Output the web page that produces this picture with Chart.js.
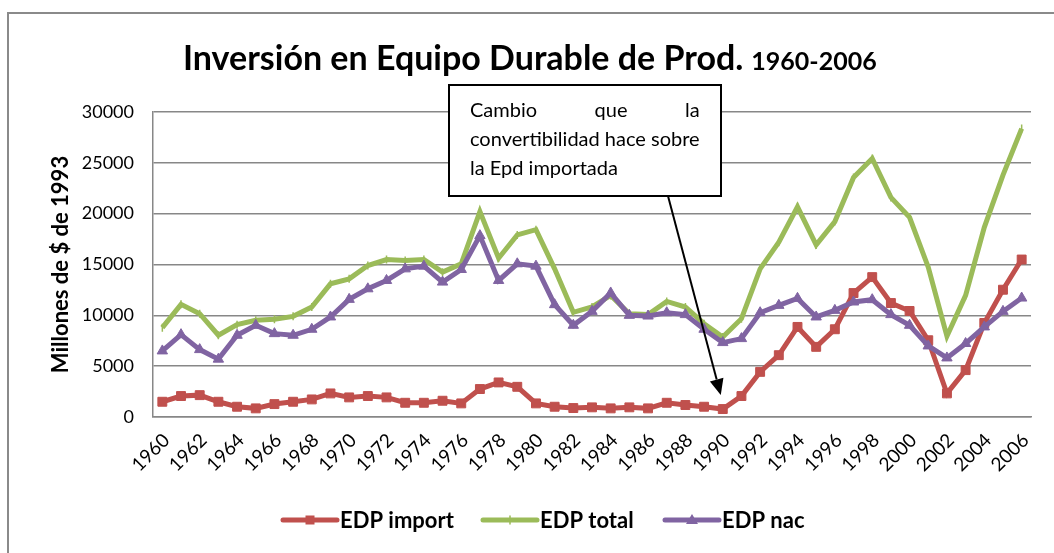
<!DOCTYPE html>
<html>
<head>
<meta charset="utf-8">
<script src="https://cdn.jsdelivr.net/npm/chart.js@4.4.1/dist/chart.umd.min.js"></script>
<style>
  html, body { margin: 0; padding: 0; background: #fff; overflow: hidden; }
  #frame { position: absolute; left: 7px; top: 12px; width: 1100px; height: 600px; border: 2px solid #8a8a8a; }
  #wrap { position: absolute; left: 0; top: 0; width: 1054px; height: 553px; }
</style>
</head>
<body>
<div id="frame"></div>
<div id="wrap"><canvas id="chart" width="1054" height="553"></canvas></div>
<script>
// ── Series (millones de $ de 1993) ──
const years = [
  '1960', '1961', '1962', '1963', '1964', '1965', '1966', '1967', '1968', '1969',
  '1970', '1971', '1972', '1973', '1974', '1975', '1976', '1977', '1978', '1979',
  '1980', '1981', '1982', '1983', '1984', '1985', '1986', '1987', '1988', '1989',
  '1990', '1991', '1992', '1993', '1994', '1995', '1996', '1997', '1998', '1999',
  '2000', '2001', '2002', '2003', '2004', '2005', '2006'
];

const edpImport = [
  1500, 2060, 2150, 1500, 1010, 850, 1270, 1500, 1730, 2320, 1930, 2060,
  1930, 1400, 1400, 1600, 1340, 2750, 3400, 2970, 1340, 1010, 880,
  950, 850, 950, 850, 1400, 1180, 1010, 780, 2060, 4440, 6080, 8860,
  6900, 8630, 12190, 13760, 11210, 10430, 7550, 2320, 4610, 9250, 12520, 15490
];

const edpTotal = [
  8790, 11080, 10160, 8040, 9080, 9510, 9610, 9900, 10820, 13100, 13590, 14900,
  15490, 15390, 15490, 14250, 15070, 20200, 15620, 17910, 18430, 14570, 10300,
  10820, 11960, 10160, 10070, 11370, 10820, 9180, 7870, 9670, 14570, 17190, 20670,
  16930, 19220, 23560, 25430, 21600, 19640, 14740, 7940, 11960, 18660, 23790, 28370
];

const edpNac = [
  6500, 8100, 6630, 5690, 8040, 9020, 8200, 8040, 8630, 9840, 11570, 12610,
  13430, 14570, 14840, 13270, 14510, 17840, 13430, 15070, 14840, 11050, 9020,
  10390, 12200, 10000, 9930, 10260, 10070, 8630, 7320, 7710, 10260, 10980, 11670,
  9840, 10490, 11310, 11540, 10070, 9020, 6990, 5810, 7230, 8860, 10390, 11700
];

const yTicks = [0, 5000, 10000, 15000, 20000, 25000, 30000];

const seriesNames = ['EDP import', 'EDP total', 'EDP nac'];
const seriesColors = ['#C0504D', '#9BBB59', '#8064A2'];

const noteLines = ['Cambio que la', 'convertibilidad hace sobre', 'la Epd importada'];
const noteYear = '1990';

const FONT = 'Lato, "Open Sans", sans-serif';
const GRID = '#878787';

// ── Title: big text plus smaller period ──
const titlePlugin = {
  id: 'titleText',
  afterDraw(chart) {
    const ctx = chart.ctx;
    ctx.save();
    ctx.fillStyle = '#000';
    ctx.textBaseline = 'alphabetic';
    ctx.textAlign = 'left';
    ctx.font = 'bold 34px ' + FONT;
    const main = 'Inversión en Equipo Durable de Prod.';
    ctx.fillText(main, 183, 70);
    const w = ctx.measureText(main).width;
    ctx.font = 'bold 25px ' + FONT;
    ctx.fillText('1960-2006', 183 + w + 8, 70);
    ctx.restore();
  }
};

// ── Marker helper shared by legend ──
function drawMarker(ctx, style, x, y, color) {
  ctx.fillStyle = color;
  ctx.strokeStyle = color;
  if (style === 'rect') {
    ctx.fillRect(x - 4.5, y - 4.5, 9, 9);
  } else if (style === 'triangle') {
    ctx.beginPath();
    ctx.moveTo(x, y - 6);
    ctx.lineTo(x + 6, y + 4);
    ctx.lineTo(x - 6, y + 4);
    ctx.closePath();
    ctx.fill();
  } else {
    ctx.lineWidth = 1.5;
    ctx.beginPath();
    ctx.moveTo(x, y - 4);
    ctx.lineTo(x, y + 4);
    ctx.stroke();
  }
}

// ── Legend: line sample with marker, then bold label ──
const legendPlugin = {
  id: 'lineLegend',
  afterDraw(chart) {
    const ctx = chart.ctx;
    const styles = ['rect', 'cross', 'triangle'];
    const startX = [283, 483, 665];
    const y = 520;
    ctx.save();
    ctx.font = 'bold 22px ' + FONT;
    ctx.textBaseline = 'middle';
    ctx.textAlign = 'left';
    seriesNames.forEach((name, i) => {
      const x0 = startX[i];
      ctx.strokeStyle = seriesColors[i];
      ctx.lineWidth = 5;
      ctx.lineCap = 'round';
      ctx.beginPath();
      ctx.moveTo(x0, y);
      ctx.lineTo(x0 + 54, y);
      ctx.stroke();
      drawMarker(ctx, styles[i], x0 + 27, y, seriesColors[i]);
      ctx.fillStyle = '#000';
      ctx.fillText(name, x0 + 57, y + 1);
    });
    ctx.restore();
  }
};

// ── Text box with arrow to the 1990 imported value ──
const notePlugin = {
  id: 'noteBox',
  afterDraw(chart) {
    const ctx = chart.ctx;
    const bx = 449, by = 85, bw = 272, bh = 111;
    ctx.save();
    ctx.fillStyle = '#fff';
    ctx.fillRect(bx, by, bw, bh);
    ctx.strokeStyle = '#000';
    ctx.lineWidth = 2;
    ctx.strokeRect(bx, by, bw, bh);

    ctx.fillStyle = '#000';
    ctx.font = '20px ' + FONT;
    ctx.textBaseline = 'alphabetic';
    ctx.textAlign = 'left';
    const textLeft = 470;
    const textRight = textLeft + ctx.measureText(noteLines[1]).width;
    // first line is justified across the box
    const words = noteLines[0].split(' ');
    const widths = words.map(wd => ctx.measureText(wd).width);
    const gap = (textRight - textLeft - widths.reduce((a, b) => a + b, 0)) / (words.length - 1);
    let x = textLeft;
    words.forEach((wd, i) => {
      ctx.fillText(wd, x, 117);
      x += widths[i] + gap;
    });
    ctx.fillText(noteLines[1], textLeft, 146);
    ctx.fillText(noteLines[2], textLeft, 175);

    // arrow
    const idx = years.indexOf(noteYear);
    const tipX = chart.scales.x.getPixelForValue(idx) - 2;
    const tipY = chart.scales.y.getPixelForValue(edpImport[idx]) - 14;
    const sx = 668, sy = by + bh;
    const ang = Math.atan2(tipY - sy, tipX - sx);
    const headLen = 16, headW = 7;
    const baseX = tipX - headLen * Math.cos(ang);
    const baseY = tipY - headLen * Math.sin(ang);
    ctx.strokeStyle = '#000';
    ctx.lineWidth = 2;
    ctx.beginPath();
    ctx.moveTo(sx, sy);
    ctx.lineTo(baseX, baseY);
    ctx.stroke();
    ctx.beginPath();
    ctx.moveTo(tipX, tipY);
    ctx.lineTo(baseX + headW * Math.sin(ang), baseY - headW * Math.cos(ang));
    ctx.lineTo(baseX - headW * Math.sin(ang), baseY + headW * Math.cos(ang));
    ctx.closePath();
    ctx.fillStyle = '#000';
    ctx.fill();
    ctx.restore();
  }
};

function lineSet(label, data, color, style, radius, order) {
  return {
    label: label,
    data: data,
    borderColor: color,
    backgroundColor: color,
    borderWidth: 5,
    tension: 0,
    pointStyle: style,
    pointRadius: radius,
    pointBorderWidth: style === 'line' ? 1.5 : 1,
    pointRotation: style === 'line' ? 90 : 0,
    order: order
  };
}

const ctx = document.getElementById('chart').getContext('2d');
new Chart(ctx, {
  type: 'line',
  data: {
    labels: years,
    datasets: [
      lineSet(seriesNames[0], edpImport, seriesColors[0], 'rect', 6.3, 2),
      lineSet(seriesNames[1], edpTotal, seriesColors[1], 'line', 4, 1),
      lineSet(seriesNames[2], edpNac, seriesColors[2], 'triangle', 6, 0)
    ]
  },
  options: {
    responsive: false,
    animation: false,
    layout: { padding: { top: 112, left: 0, right: 23, bottom: 76 } },
    plugins: {
      legend: { display: false },
      title: { display: false },
      tooltip: { enabled: false }
    },
    scales: {
      x: {
        offset: true,
        afterFit(scale) { scale.height = 60; },
        grid: { display: false, drawTicks: false },
        border: { display: true, color: GRID, width: 1.5 },
        ticks: {
          autoSkip: false,
          maxRotation: 45,
          minRotation: 45,
          padding: 12,
          labelOffset: 4,
          color: '#000',
          font: { family: FONT, size: 19 },
          callback: function(value, index) {
            return index % 2 === 0 ? years[index] : '';
          }
        }
      },
      y: {
        min: yTicks[0],
        max: yTicks[yTicks.length - 1],
        afterFit(scale) { scale.width = 153; },
        afterBuildTicks(scale) { scale.ticks = yTicks.map(v => ({ value: v })); },
        grid: { color: GRID, lineWidth: 1.5, drawTicks: false },
        border: { display: true, color: GRID, width: 1.5 },
        ticks: {
          padding: 19,
          color: '#000',
          font: { family: FONT, size: 18 },
          callback: v => String(v)
        },
        title: {
          display: true,
          text: 'Millones de $ de 1993',
          color: '#000',
          padding: { top: 48, bottom: 0 },
          font: { family: FONT, size: 22, weight: 'bold' }
        }
      }
    }
  },
  plugins: [titlePlugin, notePlugin, legendPlugin]
});
</script>
</body>
</html>
